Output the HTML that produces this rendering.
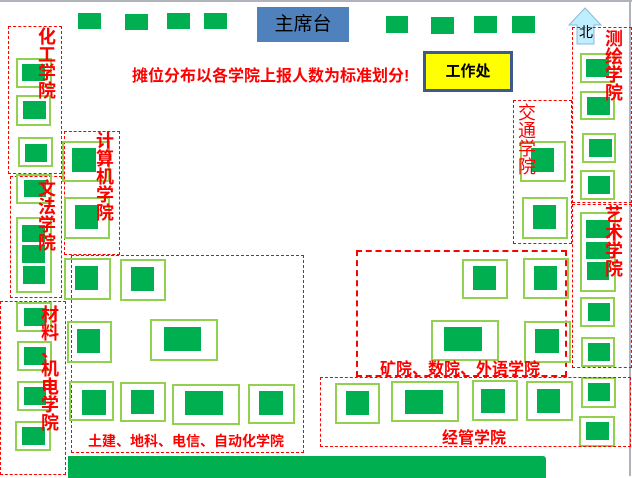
<!DOCTYPE html>
<html><head><meta charset="utf-8"><style>
body{margin:0;width:632px;height:476px;position:relative;overflow:hidden;background:#fff;font-family:"Liberation Sans","Noto Sans CJK SC",sans-serif}
div{position:absolute;box-sizing:border-box}
.g{background:#00b050}
.o{border:2px solid #92d050}
.d{border:1px dashed #ff0000}
.t{color:#f00;font-weight:bold;font-size:18px;line-height:18px;width:20px;text-align:center;z-index:5;white-space:nowrap}
.h{color:#f00;font-weight:bold;font-size:15px;white-space:nowrap;z-index:5}
</style></head><body>
<div style="left:0;top:0;width:632px;height:2px;background:#b0b4ba"></div>
<div style="left:629px;top:0;width:2px;height:476px;background:#b0b4ba"></div>
<div class="g" style="left:78px;top:13px;width:23px;height:16px"></div>
<div class="g" style="left:125px;top:14px;width:23px;height:16px"></div>
<div class="g" style="left:167px;top:13px;width:23px;height:16px"></div>
<div class="g" style="left:204px;top:13px;width:23px;height:16px"></div>
<div class="g" style="left:386px;top:16px;width:22px;height:17px"></div>
<div class="g" style="left:431px;top:17px;width:23px;height:17px"></div>
<div class="g" style="left:474px;top:16px;width:23px;height:17px"></div>
<div class="g" style="left:512px;top:16px;width:23px;height:17px"></div>
<div style="left:257px;top:7px;width:92px;height:35px;background:#4f81bd;font-size:19px;line-height:35px;text-align:center;color:#000">主席台</div>
<div style="left:132px;top:62px;color:#f00;font-weight:bold;font-size:16px;white-space:nowrap">摊位分布以各学院上报人数为标准划分!</div>
<div style="left:423px;top:51px;width:90px;height:41px;background:#ff0;border:3px solid #3f5a8a;font-weight:bold;font-size:15px;line-height:35px;text-align:center">工作处</div>
<svg style="position:absolute;left:568px;top:7px" width="36" height="38"><polygon points="17,1 33,18 26,18 26,37 9,37 9,18 1,18" fill="#bfefff" stroke="#8ab8d8" stroke-width="1"/><text x="11" y="30" font-size="14" fill="#000" font-family="Noto Sans CJK SC">北</text></svg>
<div class="d" style="left:8px;top:26px;width:54px;height:148px"></div>
<div class="t" style="left:37px;top:28px">化<br>工<br>学<br>院</div>
<div class="o" style="left:16px;top:58px;width:36px;height:30px"></div><div class="g" style="left:22px;top:64px;width:23px;height:17px"></div>
<div class="o" style="left:16px;top:95px;width:35px;height:31px"></div><div class="g" style="left:23px;top:101px;width:23px;height:18px"></div>
<div class="o" style="left:18px;top:137px;width:35px;height:30px"></div><div class="g" style="left:25px;top:144px;width:22px;height:18px"></div>
<div class="d" style="left:10px;top:176px;width:52px;height:122px"></div>
<div class="t" style="left:37px;top:180px">文<br>法<br>学<br>院</div>
<div class="o" style="left:16px;top:174px;width:36px;height:30px"></div><div class="g" style="left:24px;top:180px;width:22px;height:17px"></div>
<div class="o" style="left:16px;top:217px;width:36px;height:76px"></div><div class="g" style="left:22px;top:225px;width:23px;height:17px"></div>
<div class="g" style="left:22px;top:245px;width:23px;height:18px"></div><div class="g" style="left:23px;top:266px;width:22px;height:18px"></div>
<div class="d" style="left:64px;top:131px;width:56px;height:124px"></div>
<div class="t" style="left:95px;top:132px">计<br>算<br>机<br>学<br>院</div>
<div class="o" style="left:62px;top:141px;width:48px;height:41px"></div><div class="g" style="left:72px;top:148px;width:24px;height:24px"></div>
<div class="o" style="left:64px;top:197px;width:46px;height:42px"></div><div class="g" style="left:75px;top:205px;width:23px;height:24px"></div>
<div class="d" style="left:0;top:301px;width:66px;height:174px"></div>
<div class="t" style="left:40px;top:306px">材<br>料<br>、<br>机<br>电<br>学<br>院</div>
<div class="o" style="left:16px;top:302px;width:36px;height:30px"></div><div class="g" style="left:24px;top:308px;width:22px;height:18px"></div>
<div class="o" style="left:17px;top:341px;width:35px;height:30px"></div><div class="g" style="left:24px;top:347px;width:22px;height:18px"></div>
<div class="o" style="left:17px;top:381px;width:35px;height:30px"></div><div class="g" style="left:24px;top:387px;width:22px;height:18px"></div>
<div class="o" style="left:15px;top:421px;width:36px;height:30px"></div><div class="g" style="left:22px;top:427px;width:23px;height:18px"></div>
<div class="d" style="left:71px;top:255px;width:233px;height:198px"></div>
<div class="o" style="left:64px;top:258px;width:47px;height:42px"></div><div class="g" style="left:75px;top:266px;width:23px;height:24px"></div>
<div class="o" style="left:120px;top:259px;width:46px;height:42px"></div><div class="g" style="left:131px;top:267px;width:23px;height:24px"></div>
<div class="o" style="left:67px;top:321px;width:45px;height:42px"></div><div class="g" style="left:77px;top:329px;width:23px;height:24px"></div>
<div class="o" style="left:150px;top:319px;width:68px;height:42px"></div><div class="g" style="left:164px;top:327px;width:37px;height:24px"></div>
<div class="o" style="left:69px;top:381px;width:45px;height:40px"></div><div class="g" style="left:82px;top:390px;width:24px;height:25px"></div>
<div class="o" style="left:120px;top:382px;width:46px;height:40px"></div><div class="g" style="left:131px;top:390px;width:23px;height:24px"></div>
<div class="o" style="left:172px;top:384px;width:68px;height:41px"></div><div class="g" style="left:185px;top:391px;width:38px;height:24px"></div>
<div class="o" style="left:248px;top:384px;width:47px;height:40px"></div><div class="g" style="left:259px;top:391px;width:24px;height:24px"></div>
<div class="h" style="left:88px;top:431px;font-size:14px">土建、地科、电信、自动化学院</div>
<div class="g" style="left:68px;top:456px;width:478px;height:22px;border-top-right-radius:3px"></div>
<div class="d" style="left:572px;top:27px;width:60px;height:176px"></div>
<div class="o" style="left:580px;top:53px;width:35px;height:30px"></div><div class="g" style="left:586px;top:59px;width:23px;height:18px"></div>
<div class="o" style="left:580px;top:91px;width:35px;height:29px"></div><div class="g" style="left:587px;top:97px;width:23px;height:18px"></div>
<div class="o" style="left:582px;top:133px;width:34px;height:30px"></div><div class="g" style="left:589px;top:139px;width:23px;height:18px"></div>
<div class="o" style="left:580px;top:170px;width:35px;height:30px"></div><div class="g" style="left:588px;top:176px;width:22px;height:18px"></div>
<div class="t" style="left:604px;top:30px">测<br>绘<br>学<br>院</div>
<div class="d" style="left:513px;top:100px;width:59px;height:144px"></div>
<div class="o" style="left:520px;top:141px;width:46px;height:41px"></div><div class="g" style="left:531px;top:148px;width:23px;height:24px"></div>
<div class="o" style="left:522px;top:197px;width:46px;height:42px"></div><div class="g" style="left:533px;top:205px;width:23px;height:24px"></div>
<div class="t" style="left:517px;top:104px;font-weight:normal">交<br>通<br>学<br>院</div>
<div class="d" style="left:572px;top:204px;width:60px;height:164px"></div>
<div class="o" style="left:580px;top:212px;width:36px;height:80px"></div>
<div class="g" style="left:586px;top:220px;width:24px;height:18px"></div><div class="g" style="left:586px;top:242px;width:24px;height:17px"></div><div class="g" style="left:587px;top:262px;width:22px;height:18px"></div>
<div class="t" style="left:604px;top:206px">艺<br>术<br>学<br>院</div>
<div class="o" style="left:580px;top:297px;width:35px;height:30px"></div><div class="g" style="left:588px;top:303px;width:22px;height:18px"></div>
<div class="o" style="left:581px;top:337px;width:34px;height:30px"></div><div class="g" style="left:588px;top:343px;width:22px;height:18px"></div>
<div class="o" style="left:581px;top:377px;width:35px;height:31px"></div><div class="g" style="left:588px;top:383px;width:22px;height:18px"></div>
<div class="o" style="left:579px;top:416px;width:36px;height:31px"></div><div class="g" style="left:586px;top:422px;width:23px;height:18px"></div>
<div style="left:356px;top:250px;width:211px;height:127px;border:2px dashed #f00"></div>
<div class="o" style="left:462px;top:259px;width:46px;height:40px"></div><div class="g" style="left:473px;top:266px;width:23px;height:24px"></div>
<div class="o" style="left:523px;top:258px;width:46px;height:41px"></div><div class="g" style="left:534px;top:266px;width:23px;height:24px"></div>
<div class="o" style="left:431px;top:320px;width:68px;height:41px"></div><div class="g" style="left:444px;top:327px;width:38px;height:24px"></div>
<div class="o" style="left:524px;top:321px;width:47px;height:42px"></div><div class="g" style="left:535px;top:329px;width:24px;height:24px"></div>
<div class="h" style="left:380px;top:355px;font-size:16px">矿院、数院、外语学院</div>
<div class="d" style="left:320px;top:377px;width:311px;height:70px"></div>
<div class="o" style="left:335px;top:383px;width:45px;height:41px"></div><div class="g" style="left:346px;top:391px;width:23px;height:24px"></div>
<div class="o" style="left:391px;top:381px;width:68px;height:41px"></div><div class="g" style="left:405px;top:390px;width:38px;height:24px"></div>
<div class="o" style="left:472px;top:380px;width:46px;height:41px"></div><div class="g" style="left:481px;top:389px;width:24px;height:24px"></div>
<div class="o" style="left:526px;top:381px;width:47px;height:40px"></div><div class="g" style="left:537px;top:389px;width:23px;height:24px"></div>
<div class="h" style="left:442px;top:424px;font-size:16px">经管学院</div>
</body></html>
